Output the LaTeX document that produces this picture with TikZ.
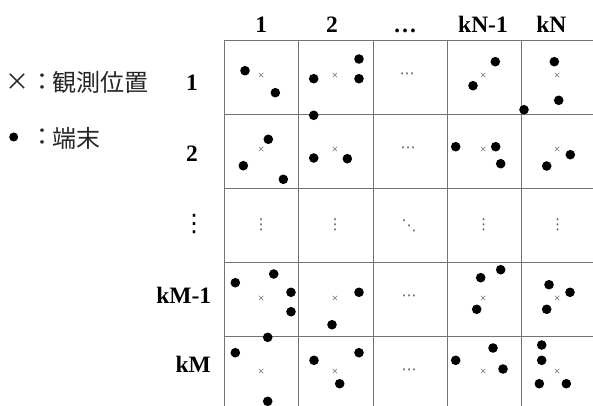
\documentclass[tikz,border=0pt]{standalone}
\usepackage{fontspec}
\setmainfont{Liberation Serif}
\newfontfamily\cjk{Noto Sans CJK JP}
\newfontfamily\dvs{DejaVu Sans}
\begin{document}
\begin{tikzpicture}[x=1pt,y=-1pt,
  hdr/.style={font=\fontsize{23.5}{28}\selectfont\bfseries, inner sep=0pt, anchor=base},
  leg/.style={font=\cjk\fontsize{24}{28}\selectfont, text=black!85, inner sep=0pt},
  dot/.style={circle, fill=black, inner sep=0pt, minimum size=9.6pt},
  obs/.style={font=\fontsize{12}{12}\selectfont, text=black!65, inner sep=0pt},
  ell/.style={font=\dvs\fontsize{15}{15}\selectfont, text=black!65, inner sep=0pt},
  gridline/.style={draw=black!55, line width=0.9pt}]
\useasboundingbox (0,0) rectangle (593,406);
% grid
\foreach \x in {224,298,373,447,521} \draw[gridline] (\x,40) -- (\x,410);
\foreach \y in {40,114,188,262,336} \draw[gridline] (224,\y) -- (596,\y);
% legend
\node[leg] (legx) at (17.5,82) {×};
\node[leg] (legc1) at (42,82) {：};
\node[leg, anchor=west] (legt1) at (52,82.5) {観測位置};
\node[dot, minimum size=9pt] (legd) at (13.7,137) {};
\node[leg] (legc2) at (42,137.5) {：};
\node[leg, anchor=west] (legt2) at (52,138) {端末};
% column headers
\node[hdr] (h1) at (261.3,32.7) {1};
\node[hdr] (h2) at (332,32.7) {2};
\node[hdr] (h3) at (405,32.7) {…};
\node[hdr] (h4) at (483,32.7) {kN-1};
\node[hdr] (h5) at (551.3,32.7) {kN};
% row labels
\node[font=\dvs\fontsize{24}{24}\selectfont, inner sep=0pt] (r3) at (194,224) {⋮};
\node[hdr] (r1) at (192,90.7) {1};
\node[hdr] (r2) at (192,161) {2};
\node[hdr] (r4) at (183.8,303.3) {kM-1};
\node[hdr] (r5) at (193.3,372.7) {kM};
% observation positions
\foreach \r/\cy in {1/76.7,2/150.7,4/299,5/372.7}
  \foreach \c/\cx in {1/261.3,2/335,4/483.3,5/557.3}
    \node[obs] (x\r\c) at (\cx,\cy) {×};
% ellipses in cells
\node[ell] (e13) at (407,76) {⋯};
\node[ell] (e23) at (408,150) {⋯};
\node[ell] (e43) at (409,298) {⋯};
\node[ell] (e53) at (409,372) {⋯};
\node[ell] (e31) at (261,225) {⋮};
\node[ell] (e32) at (335,225) {⋮};
\node[ell] (e33) at (409,226) {⋱};
\node[ell] (e34) at (483.5,225) {⋮};
\node[ell] (e35) at (557.5,225) {⋮};
% terminals
\foreach \p [count=\i] in {(245,70.7), (275.3,92.7),
  (313.7,78.7), (359,59), (359,78.7), (313.7,115.3),
  (495.3,61.7), (473,85.7),
  (554.3,61.7), (558.7,100.3), (524,109.7),
  (268.3,139.3), (243.3,165.7), (283.3,179.3),
  (313.7,158), (347.3,158.7),
  (455.7,146.7), (495.7,146.7), (500.7,163.7),
  (570.3,154.7), (546.7,166),
  (235.3,282.7), (273.7,274), (291,292.3), (291,311.7),
  (359,292.3), (332,324.7),
  (500.7,269.7), (480.7,277.7), (476.7,309.3),
  (549,284.7), (570,292.3), (546.7,309.3),
  (267.7,337.3), (235.3,352.7), (267.7,401.3),
  (314,360.3), (359,352.7), (339.7,383.7),
  (455.7,360.3), (493,348), (503,369),
  (541.7,345), (541.7,360.3), (539.3,383.7), (566.3,383.7)}
  \node[dot] (d\i) at \p {};
\end{tikzpicture}
\end{document}
